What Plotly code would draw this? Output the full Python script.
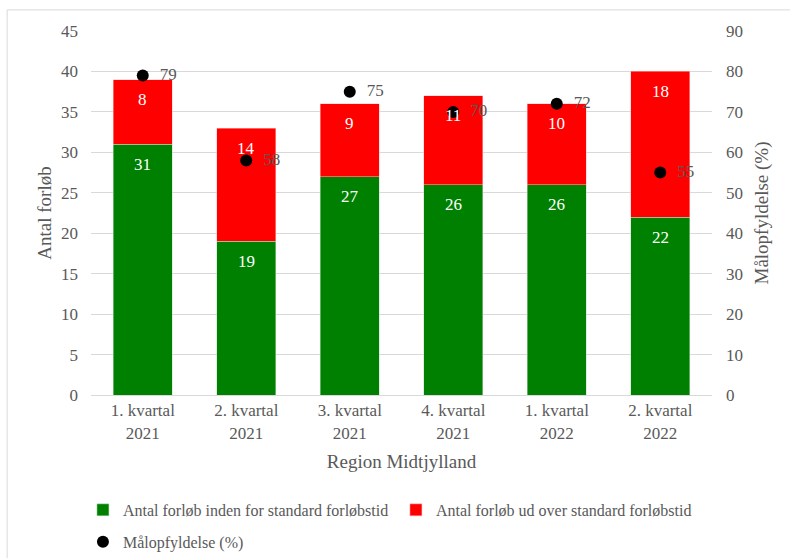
import plotly.graph_objects as go

categories = ["1. kvartal<br>2021", "2. kvartal<br>2021", "3. kvartal<br>2021",
              "4. kvartal<br>2021", "1. kvartal<br>2022", "2. kvartal<br>2022"]
inden = [31, 19, 27, 26, 26, 22]
udover = [8, 14, 9, 11, 10, 18]
maalopfyldelse = [79, 58, 75, 70, 72, 55]

FONT = "Liberation Serif, Times New Roman, serif"
GREY = "#595959"
FS = 17
LFS = 16

fig = go.Figure()
fig.add_trace(go.Bar(
    x=categories, y=inden, name="Antal forløb inden for standard forløbstid",
    marker=dict(color="#008000", line=dict(width=0.5, color="#bfe0bf")),
    legend="legend",
))
fig.add_trace(go.Bar(
    x=categories, y=udover, name="Antal forløb ud over standard forløbstid",
    marker=dict(color="#FF0000", line=dict(width=0.5, color="#ffbfbf")),
    legend="legend",
))
fig.add_trace(go.Scatter(
    x=categories, y=maalopfyldelse, name="Målopfyldelse (%)", yaxis="y2",
    mode="markers+text", marker=dict(color="black", size=12),
    text=[f"  {v}" for v in maalopfyldelse], textposition="middle right",
    textfont=dict(color=GREY, size=FS, family=FONT), cliponaxis=False,
    legend="legend2",
))

# Data labels inside the bars, near the top of each segment
annotations = []
for c, g, r in zip(categories, inden, udover):
    annotations.append(dict(x=c, y=g, xref="x", yref="y", text=str(g), showarrow=False,
                            yshift=-20, font=dict(color="white", size=FS, family=FONT)))
    annotations.append(dict(x=c, y=g + r, xref="x", yref="y", text=str(r), showarrow=False,
                            yshift=-20, font=dict(color="white", size=FS, family=FONT)))

fig.update_layout(
    barmode="stack", bargap=0.43,
    width=790, height=558,
    margin=dict(l=91, r=78, t=31, b=163, autoexpand=False),
    paper_bgcolor="white", plot_bgcolor="white",
    font=dict(family=FONT, color=GREY, size=FS),
    showlegend=True,
    annotations=annotations,
    legend=dict(orientation="h", x=-0.013, xanchor="left", y=-0.269, yanchor="top",
                font=dict(size=LFS, color=GREY, family=FONT),
                traceorder="normal", itemwidth=30,
                entrywidth=268, entrywidthmode="pixels"),
    legend2=dict(orientation="h", x=-0.013, xanchor="left", y=-0.357, yanchor="top",
                 font=dict(size=LFS, color=GREY, family=FONT), itemwidth=30),
    xaxis=dict(showline=True, linecolor="#d9d9d9", linewidth=1, ticks="", automargin=False,
               tickfont=dict(size=FS, color=GREY),
               title=dict(text="Region Midtjylland", font=dict(size=19, color=GREY), standoff=13)),
    yaxis=dict(range=[0, 45], dtick=5, showgrid=True, gridcolor="#d9d9d9", zeroline=False,
               tickfont=dict(size=FS, color=GREY), ticks="", automargin=False,
               ticklabelstandoff=12,
               title=dict(text="Antal forløb", font=dict(size=19, color=GREY), standoff=4)),
    yaxis2=dict(range=[0, 90], dtick=10, overlaying="y", side="right", showgrid=False,
                zeroline=False, tickfont=dict(size=FS, color=GREY), automargin=False,
                ticklabelstandoff=13,
                title=dict(text="Målopfyldelse (%)", font=dict(size=19, color=GREY), standoff=12)),
    shapes=[dict(type="rect", xref="paper", yref="paper",
                 x0=-0.135, x1=1.13, y0=-0.48, y1=1.058,
                 line=dict(color="#d9d9d9", width=1), fillcolor="rgba(0,0,0,0)", layer="below")],
)

fig.write_html("out.html", config={"displayModeBar": False},
               post_script="document.body.style.margin='0px';")
